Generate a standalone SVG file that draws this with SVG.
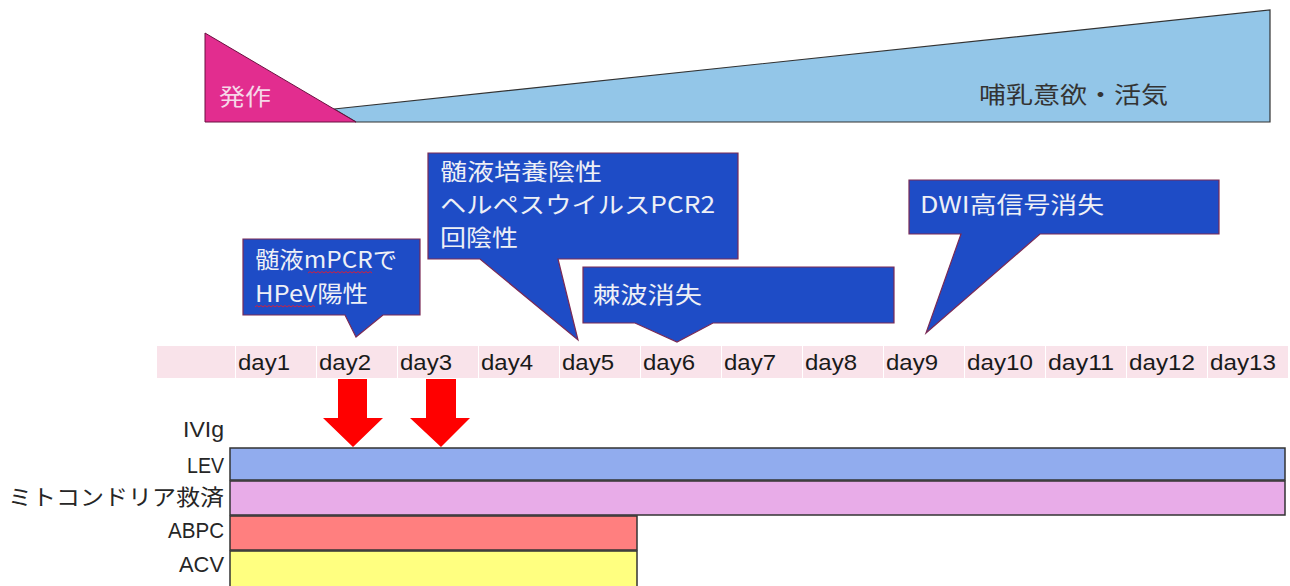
<svg xmlns="http://www.w3.org/2000/svg" width="1290" height="586" viewBox="0 0 1290 586">
<defs>
<style>
.lat{font-family:"Liberation Sans","Noto Sans CJK JP",sans-serif;}
.cjk{font-family:"Noto Sans CJK JP","Liberation Sans",sans-serif;}
.call{fill:#1E4CC6;stroke:#7A2A55;stroke-width:1.2;}
.ct{fill:#EEF0F6;font-size:23px;}
.day{fill:#F9E3EA;}
.dt{fill:#1A1A1A;font-size:22px;}
.lbl{fill:#262626;font-size:22px;text-anchor:end;}
.bar{stroke:#333;stroke-width:1.5;}
.arw{fill:#FF0000;}
.sq{fill:none;stroke:#D02040;stroke-width:1;}
</style>
</defs>
<rect width="1290" height="586" fill="#FFFFFF"/>

<g id="appetite">
<path d="M334,109 L1270,10 L1270,122 L356,122 Z" fill="#93C6E8" stroke="#333" stroke-width="1.2"/>
<text class="cjk" x="979" y="103" font-size="23" fill="#333" textLength="189" lengthAdjust="spacingAndGlyphs">哺乳意欲・活気</text>
</g>
<g id="onset">
<path d="M205,33 L205,122 L356,122 Z" fill="#E22D8F" stroke="#6A1040" stroke-width="1"/>
<text class="cjk" x="219" y="105" font-size="23" fill="#F6D8E8" textLength="52" lengthAdjust="spacingAndGlyphs">発作</text>
</g>

<g id="callout-mpcr">
<path class="call" d="M243,239 H420 V315 H383 L356,337 L345,315 H243 Z"/>
<text class="cjk ct" x="255" y="268" textLength="142" lengthAdjust="spacingAndGlyphs">髄液mPCRで</text>
<text class="cjk ct" x="255" y="302" textLength="113" lengthAdjust="spacingAndGlyphs">HPeV陽性</text>
<path class="sq" d="M308,273 l2,-1.5 l2,1.5 l2,-1.5 l2,1.5 l2,-1.5 l2,1.5 l2,-1.5 l2,1.5 l2,-1.5 l2,1.5 l2,-1.5 l2,1.5 l2,-1.5 l2,1.5 l2,-1.5 l2,1.5 l2,-1.5 l2,1.5 l2,-1.5 l2,1.5 l2,-1.5 l2,1.5 l2,-1.5 l2,1.5 l2,-1.5 l2,1.5 l2,-1.5 l2,1.5 l2,-1.5 l2,1.5 l2,-1.5 l2,1.5"/>
<path class="sq" d="M255,307 l2,-1.5 l2,1.5 l2,-1.5 l2,1.5 l2,-1.5 l2,1.5 l2,-1.5 l2,1.5 l2,-1.5 l2,1.5 l2,-1.5 l2,1.5 l2,-1.5 l2,1.5 l2,-1.5 l2,1.5 l2,-1.5 l2,1.5 l2,-1.5 l2,1.5 l2,-1.5 l2,1.5 l2,-1.5 l2,1.5 l2,-1.5 l2,1.5 l2,-1.5 l2,1.5 l2,-1.5 l2,1.5"/>
</g>

<g id="callout-culture">
<path class="call" d="M428,153 H738 V259 H558 L578,340 L480,259 H428 Z"/>
<text class="cjk ct" x="440" y="180" textLength="162" lengthAdjust="spacingAndGlyphs">髄液培養陰性</text>
<text class="cjk ct" x="440" y="213" textLength="275" lengthAdjust="spacingAndGlyphs">ヘルペスウイルスPCR2</text>
<text class="cjk ct" x="440" y="246" textLength="78" lengthAdjust="spacingAndGlyphs">回陰性</text>
</g>

<g id="callout-spike">
<path class="call" d="M583,267 H894 V323 H713 L677,342 L635,323 H583 Z"/>
<text class="cjk ct" x="593" y="303" textLength="109" lengthAdjust="spacingAndGlyphs">棘波消失</text>
</g>

<g id="callout-dwi">
<path class="call" d="M909,180 H1219 V234 H1040 L926,333 L961,234 H909 Z"/>
<text class="cjk ct" x="920" y="213" textLength="184" lengthAdjust="spacingAndGlyphs">DWI高信号消失</text>
</g>

<g id="timeline">
<rect class="day" x="157" y="346" width="78" height="32"/>
<rect class="day" x="236" y="346" width="80" height="32"/>
<rect class="day" x="317" y="346" width="80" height="32"/>
<rect class="day" x="398" y="346" width="80" height="32"/>
<rect class="day" x="479" y="346" width="80" height="32"/>
<rect class="day" x="560" y="346" width="80" height="32"/>
<rect class="day" x="641" y="346" width="80" height="32"/>
<rect class="day" x="722" y="346" width="80" height="32"/>
<rect class="day" x="803" y="346" width="80" height="32"/>
<rect class="day" x="884" y="346" width="80" height="32"/>
<rect class="day" x="965" y="346" width="80" height="32"/>
<rect class="day" x="1046" y="346" width="80" height="32"/>
<rect class="day" x="1127" y="346" width="80" height="32"/>
<rect class="day" x="1208" y="346" width="80" height="32"/>
<g class="lat dt">
<text x="238" y="370" textLength="52" lengthAdjust="spacingAndGlyphs">day1</text>
<text x="319" y="370" textLength="52" lengthAdjust="spacingAndGlyphs">day2</text>
<text x="400" y="370" textLength="52" lengthAdjust="spacingAndGlyphs">day3</text>
<text x="481" y="370" textLength="52" lengthAdjust="spacingAndGlyphs">day4</text>
<text x="562" y="370" textLength="52" lengthAdjust="spacingAndGlyphs">day5</text>
<text x="643" y="370" textLength="52" lengthAdjust="spacingAndGlyphs">day6</text>
<text x="724" y="370" textLength="52" lengthAdjust="spacingAndGlyphs">day7</text>
<text x="805" y="370" textLength="52" lengthAdjust="spacingAndGlyphs">day8</text>
<text x="886" y="370" textLength="52" lengthAdjust="spacingAndGlyphs">day9</text>
<text x="967" y="370" textLength="66" lengthAdjust="spacingAndGlyphs">day10</text>
<text x="1048" y="370" textLength="66" lengthAdjust="spacingAndGlyphs">day11</text>
<text x="1129" y="370" textLength="66" lengthAdjust="spacingAndGlyphs">day12</text>
<text x="1210" y="370" textLength="66" lengthAdjust="spacingAndGlyphs">day13</text>
</g>
</g>

<g id="treatments">
<text class="lat lbl" x="224" y="437" textLength="41" lengthAdjust="spacingAndGlyphs">IVIg</text>
<g id="lev">
<rect class="bar" x="230" y="448" width="1055" height="32" fill="#91ACEE"/>
<text class="lat lbl" x="224" y="473" textLength="37" lengthAdjust="spacingAndGlyphs">LEV</text>
</g>
<g id="mito">
<rect class="bar" x="230" y="481" width="1055" height="34" fill="#E8ACE8"/>
<text class="cjk lbl" x="224" y="505" textLength="216" lengthAdjust="spacingAndGlyphs">ミトコンドリア救済</text>
</g>
<g id="abpc">
<rect class="bar" x="230" y="516" width="407" height="34" fill="#FF7F7F"/>
<text class="lat lbl" x="224" y="538" textLength="56" lengthAdjust="spacingAndGlyphs">ABPC</text>
</g>
<g id="acv">
<rect class="bar" x="230" y="551" width="407" height="40" fill="#FFFF80"/>
<text class="lat lbl" x="224" y="572" textLength="45" lengthAdjust="spacingAndGlyphs">ACV</text>
</g>
</g>

<g id="connectors">
<path class="arw" d="M338,379 H367 V418 H383 L353,447 L323,418 H338 Z"/>
<path class="arw" d="M426,379 H456 V418 H470 L441,447 L410,418 H426 Z"/>
</g>
</svg>
